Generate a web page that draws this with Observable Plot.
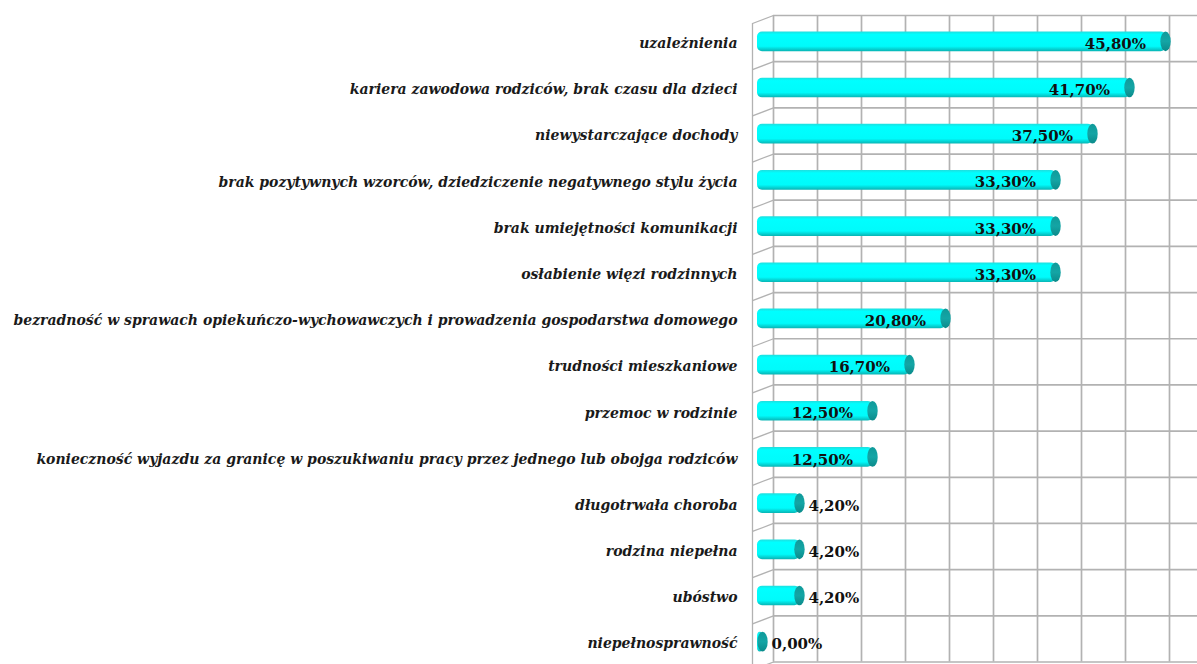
<!DOCTYPE html>
<html>
<head>
<meta charset="utf-8">
<script src="https://cdn.jsdelivr.net/npm/d3@7"></script>
<script src="https://cdn.jsdelivr.net/npm/@observablehq/plot@0.6"></script>
<style>
  html, body { margin: 0; padding: 0; background: #fff; overflow: hidden; }
  #chart svg { display: block; }
</style>
</head>
<body>
<div id="chart"></div>
<script>
const categories = [
  "uzależnienia",
  "kariera zawodowa rodziców, brak czasu dla dzieci",
  "niewystarczające dochody",
  "brak pozytywnych wzorców, dziedziczenie negatywnego stylu życia",
  "brak umiejętności komunikacji",
  "osłabienie więzi rodzinnych",
  "bezradność w sprawach opiekuńczo-wychowawczych i prowadzenia gospodarstwa domowego",
  "trudności mieszkaniowe",
  "przemoc w rodzinie",
  "konieczność wyjazdu za granicę w poszukiwaniu pracy przez jednego lub obojga rodziców",
  "długotrwała choroba",
  "rodzina niepełna",
  "ubóstwo",
  "niepełnosprawność"
];
const values = [45.8, 41.7, 37.5, 33.3, 33.3, 33.3, 20.8, 16.7, 12.5, 12.5, 4.2, 4.2, 4.2, 0.0];
const xTicks = [0, 5, 10, 15, 20, 25, 30, 35, 40, 45, 50];

const fmt = v => v.toFixed(2).replace(".", ",") + "%";
const rows = categories.map((c, i) => ({cat: c, v: values[i], i, label: fmt(values[i])}));
const rowEdges = d3.range(categories.length + 1);

// layout (pixels)
const W = 1197, H = 664;
const X_RANGE = [773, 1213], Y_RANGE = [15, 661.5];
const X_DOMAIN = [0, 50], Y_DOMAIN = [0, categories.length];
const pxPerX = (X_RANGE[1] - X_RANGE[0]) / (X_DOMAIN[1] - X_DOMAIN[0]);
const pxPerY = (Y_RANGE[1] - Y_RANGE[0]) / (Y_DOMAIN[1] - Y_DOMAIN[0]);
const WALL_DX = 21, WALL_DY = 8;   // depth of the 3D side wall
const BAR_DX = -10.5;               // bars sit in front of the back plane
const grid = "#b2b2b2";

const plot = Plot.plot({
  width: W,
  height: H,
  margin: 0,
  x: {domain: X_DOMAIN, range: X_RANGE, axis: null},
  y: {domain: Y_DOMAIN, range: Y_RANGE, axis: null},
  style: {background: "#fff", overflow: "hidden"},
  marks: [
    // back plane grid
    Plot.ruleX(xTicks, {y1: Y_DOMAIN[0], y2: Y_DOMAIN[1], stroke: grid, strokeWidth: 1.7}),
    Plot.ruleY(rowEdges, {x1: X_DOMAIN[0], x2: X_DOMAIN[1], stroke: grid, strokeWidth: 1.7}),
    // left side wall
    Plot.ruleX([0], {y1: Y_DOMAIN[0] + WALL_DY / pxPerY, y2: Y_DOMAIN[1] + 1, dx: -WALL_DX, stroke: grid, strokeWidth: 1.3}),
    Plot.link(rowEdges, {
      x1: -WALL_DX / pxPerX, y1: d => d + WALL_DY / pxPerY,
      x2: 0, y2: d => d,
      stroke: grid, strokeWidth: 1.3
    }),
    // cylinder bodies
    Plot.rectX(rows, {
      x1: 0, x2: "v", y1: "i", y2: d => d.i + 1,
      insetTop: 16.5, insetBottom: 10, insetLeft: -5.5,
      dx: BAR_DX, rx: 5, fill: "url(#cyl)"
    }),
    // cylinder end caps
    Plot.rectX(rows, {
      x1: "v", x2: "v", y1: "i", y2: d => d.i + 1,
      insetTop: 16.5, insetBottom: 10, insetLeft: -5.2, insetRight: -5.2,
      dx: BAR_DX, rx: 5.2, ry: 10, fill: "url(#cap)"
    }),
    // category labels
    Plot.text(rows, {
      x: 0, y: d => d.i + 0.5, text: "cat",
      textAnchor: "end", dx: -36, dy: 5,
      fontFamily: "DejaVu Serif, serif",
      fontStyle: "italic", fontWeight: "bold", fontSize: 14, fill: "#1a1a1a"
    }),
    // value labels inside
    Plot.text(rows.filter(d => d.v > 10), {
      x: "v", y: d => d.i + 0.5, text: "label",
      textAnchor: "end", dx: BAR_DX - 20, dy: 5.5,
      fontFamily: "DejaVu Serif, serif", fontWeight: "bold", fontSize: 15, fill: "#111"
    }),
    // value labels outside
    Plot.text(rows.filter(d => d.v <= 10), {
      x: "v", y: d => d.i + 0.5, text: "label",
      textAnchor: "start", dx: BAR_DX + 8.5, dy: 5.5,
      fontFamily: "DejaVu Serif, serif", fontWeight: "bold", fontSize: 15, fill: "#111"
    })
  ]
});

const NS = "http://www.w3.org/2000/svg";
const defs = document.createElementNS(NS, "defs");
function grad(id, stops) {
  const g = document.createElementNS(NS, "linearGradient");
  g.setAttribute("id", id);
  g.setAttribute("x1", "0"); g.setAttribute("y1", "0");
  g.setAttribute("x2", "0"); g.setAttribute("y2", "1");
  for (const [o, c] of stops) {
    const s = document.createElementNS(NS, "stop");
    s.setAttribute("offset", o);
    s.setAttribute("stop-color", c);
    g.appendChild(s);
  }
  defs.appendChild(g);
}
grad("cyl", [["0", "#1fdede"], ["0.15", "#00ffff"], ["0.75", "#00fbfb"], ["1", "#08b4b4"]]);
grad("cap", [["0", "#0f9a9a"], ["0.5", "#14a5a5"], ["1", "#0b8a8a"]]);
plot.insertBefore(defs, plot.firstChild);

document.getElementById("chart").appendChild(plot);
</script>
</body>
</html>
